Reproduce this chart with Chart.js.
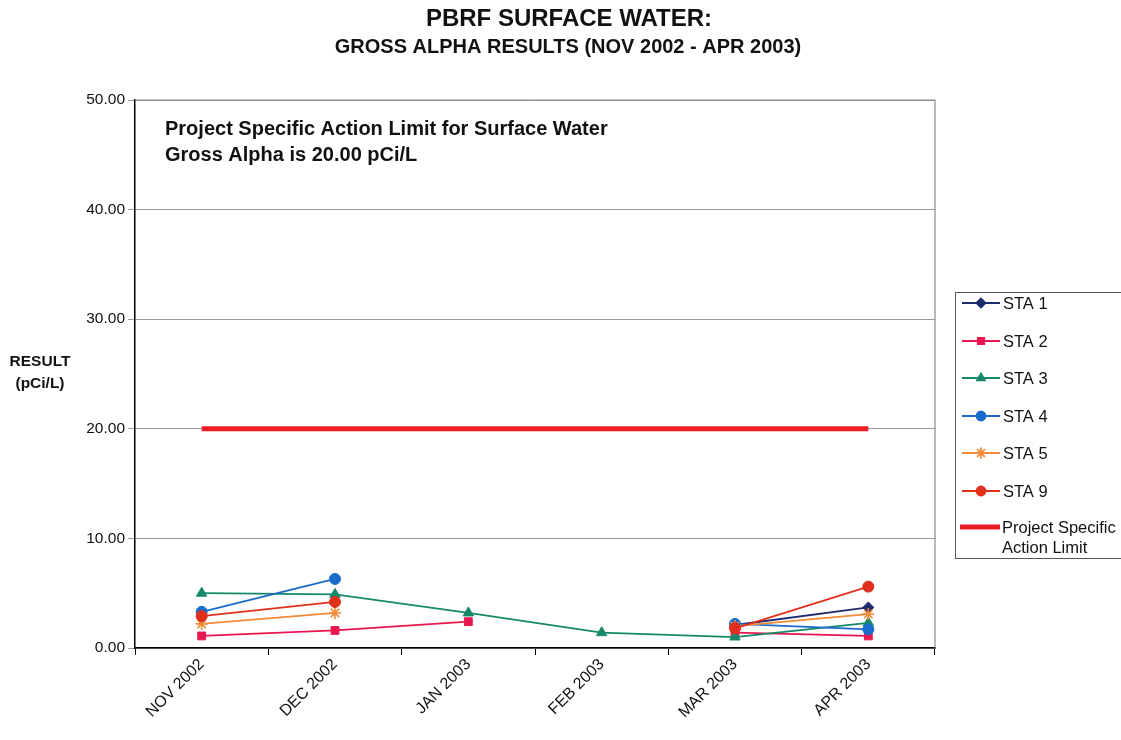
<!DOCTYPE html>
<html>
<head>
<meta charset="utf-8">
<title>PBRF Surface Water - Gross Alpha</title>
<script src="https://cdn.jsdelivr.net/npm/chart.js@4.4.1/dist/chart.umd.min.js"></script>
<style>
  html, body { margin: 0; padding: 0; background: #fff; }
  #wrap { position: relative; width: 1121px; height: 740px; }
</style>
</head>
<body>
<div id="wrap"><canvas id="alphaChart" width="1121" height="740"></canvas></div>
<script>
// ── DATA ──────────────────────────────────────────────────────────────────────
const months = ['NOV 2002', 'DEC 2002', 'JAN 2003', 'FEB 2003', 'MAR 2003', 'APR 2003'];
const yTicks = [0, 10, 20, 30, 40, 50];

const sta1 = [null, null, null, null, 2.1, 3.7];
const sta2 = [1.1, 1.6, 2.4, null, 1.4, 1.1];
const sta3 = [5.0, 4.9, 3.2, 1.4, 1.0, 2.3];
const sta4 = [3.3, 6.3, null, null, 2.2, 1.7];
const sta5 = [2.2, 3.2, null, null, 2.0, 3.1];
const sta9 = [2.9, 4.2, null, null, 1.8, 5.6];
const actionLimit = [20, 20, 20, 20, 20, 20];

const FONT = "'Liberation Sans', Arial, sans-serif";

// ── SERIES ────────────────────────────────────────────────────────────────────
const series = [
  { label: 'STA 1', data: sta1, color: '#1c2a6e', style: 'rectRot',  r: 5.5 },
  { label: 'STA 2', data: sta2, color: '#ea1650', style: 'rect',     r: 5.5 },
  { label: 'STA 3', data: sta3, color: '#16896a', style: 'triangle', r: 6   },
  { label: 'STA 4', data: sta4, color: '#1a6ccb', style: 'circle',   r: 5.5 },
  { label: 'STA 5', data: sta5, color: '#f28a36', style: 'star',     r: 6   },
  { label: 'STA 9', data: sta9, color: '#e0301c', style: 'circle',   r: 5.5 },
];

const datasets = series.map((s, i) => ({
  label: s.label,
  data: s.data,
  borderColor: s.color,
  backgroundColor: s.color,
  borderWidth: 1.8,
  pointStyle: s.style,
  pointRadius: s.r,
  pointBorderWidth: s.style === 'star' ? 1.6 : 1,
  pointBorderColor: s.color,
  pointBackgroundColor: s.color,
  spanGaps: false,
  tension: 0,
  order: series.length - i,
}));

datasets.push({
  label: 'Project Specific Action Limit',
  data: actionLimit,
  borderColor: '#ee1c24',
  borderWidth: 5,
  pointRadius: 0,
  tension: 0,
  order: 0,
});

// ── DECORATION PLUGIN: titles, side label, note, legend, frame ──────────────
const decor = {
  id: 'decor',
  beforeDraw(chart) {
    const { ctx, width, height } = chart;
    ctx.save();
    ctx.fillStyle = '#fff';
    ctx.fillRect(0, 0, width, height);
    ctx.restore();
  },
  beforeDatasetsDraw(chart) {
    const { ctx, chartArea: a } = chart;
    ctx.save();
    ctx.strokeStyle = '#8c8c8c';
    ctx.lineWidth = 1.2;
    ctx.beginPath();
    ctx.moveTo(a.left, a.top);
    ctx.lineTo(a.right, a.top);
    ctx.lineTo(a.right, a.bottom);
    ctx.stroke();
    ctx.restore();
  },
  afterDraw(chart) {
    const { ctx } = chart;
    ctx.save();
    ctx.fillStyle = '#111';
    ctx.textAlign = 'center';
    ctx.textBaseline = 'middle';
    ctx.font = 'bold 24px ' + FONT;
    ctx.fillText('PBRF SURFACE WATER:', 569, 19);
    ctx.font = 'bold 20px ' + FONT;
    ctx.fillText('GROSS ALPHA RESULTS (NOV 2002 - APR 2003)', 568, 47);

    // side label
    ctx.font = 'bold 15.5px ' + FONT;
    ctx.fillText('RESULT', 40, 362);
    ctx.fillText('(pCi/L)', 40, 384);

    // note inside the plot
    ctx.textAlign = 'left';
    ctx.font = 'bold 20px ' + FONT;
    ctx.fillText('Project Specific Action Limit for Surface Water', 165, 129);
    ctx.fillText('Gross Alpha is 20.00 pCi/L', 165, 155);

    // legend
    const lx = 955, ly = 292, lw = 175, lh = 266;
    ctx.strokeStyle = '#555';
    ctx.lineWidth = 1;
    ctx.strokeRect(lx + 0.5, ly + 0.5, lw, lh);
    ctx.font = '16.5px ' + FONT;
    const rows = [303, 341, 378, 416, 453, 491];
    series.forEach((s, i) => {
      const y = rows[i];
      ctx.strokeStyle = s.color;
      ctx.lineWidth = 1.8;
      ctx.beginPath();
      ctx.moveTo(962, y);
      ctx.lineTo(1000, y);
      ctx.stroke();
      ctx.fillStyle = s.color;
      Chart.helpers.drawPoint(ctx, {
        pointStyle: s.style,
        radius: s.style === 'star' ? 5.5 : 4.5,
        rotation: 0,
        borderWidth: s.style === 'star' ? 1.5 : 1,
      }, 981, y);
      ctx.fillStyle = '#111';
      ctx.fillText(s.label, 1003, y + 1);
    });
    ctx.strokeStyle = '#ee1c24';
    ctx.lineWidth = 5;
    ctx.beginPath();
    ctx.moveTo(960, 527);
    ctx.lineTo(1000, 527);
    ctx.stroke();
    ctx.fillStyle = '#111';
    ctx.fillText('Project Specific', 1002, 528);
    ctx.fillText('Action Limit', 1002, 548);
    ctx.restore();
  }
};

// ── CHART ─────────────────────────────────────────────────────────────────────
new Chart(document.getElementById('alphaChart'), {
  type: 'line',
  data: { labels: months, datasets },
  plugins: [decor],
  options: {
    responsive: false,
    animation: false,
    layout: { padding: { top: 100, right: 186, left: 0, bottom: 0 } },
    plugins: { legend: { display: false }, tooltip: { enabled: false }, title: { display: false } },
    scales: {
      x: {
        offset: true,
        grid: { offset: true, drawOnChartArea: false, drawTicks: true, tickLength: 7, color: '#000' },
        border: { color: '#000', width: 1.5 },
        ticks: {
          minRotation: 45, maxRotation: 45, padding: 0,
          color: '#111', font: { family: FONT, size: 16 },
        },
        afterFit(scale) { scale.height = 92; },
      },
      y: {
        min: 0, max: 50,
        afterBuildTicks(scale) { scale.ticks = yTicks.map(v => ({ value: v })); },
        grid: { color: '#9a9a9a', lineWidth: 1, tickLength: 7, drawTicks: true },
        border: { color: '#000', width: 1.5 },
        ticks: {
          padding: 3, color: '#111', font: { family: FONT, size: 15.5 },
          callback: v => Number(v).toFixed(2),
        },
        afterFit(scale) { scale.width = 135; },
      },
    },
  },
});
</script>
</body>
</html>
